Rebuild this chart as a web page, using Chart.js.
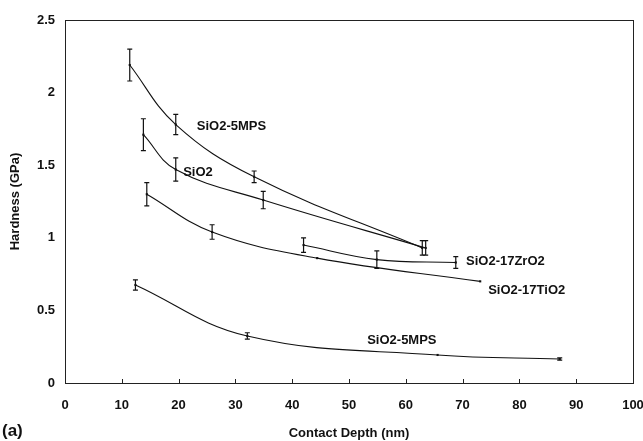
<!DOCTYPE html>
<html>
<head>
<meta charset="utf-8">
<script src="https://cdn.jsdelivr.net/npm/chart.js@4"></script>
<style>
  html, body { margin: 0; padding: 0; background: #fff; }
  #wrap { width: 643px; height: 441px; position: relative; }
</style>
</head>
<body>
<div id="wrap"><canvas id="hardnessChart"></canvas></div>
<script>
// ---- data ----
const xTicks = [0, 10, 20, 30, 40, 50, 60, 70, 80, 90, 100];
const yTicks = [0, 0.5, 1, 1.5, 2, 2.5];

const mps5Depth = [11.4, 19.5, 33.3, 62.9];
const mps5Hard  = [2.19, 1.78, 1.42, 0.93];
const mps5Err   = [0.11, 0.07, 0.04, 0.05];

const sio2Depth = [13.8, 19.5, 34.9, 63.5];
const sio2Hard  = [1.71, 1.47, 1.26, 0.93];
const sio2Err   = [0.11, 0.08, 0.06, 0.05];

const tio2Depth = [14.4, 25.9, 44.4, 73.1];
const tio2Hard  = [1.30, 1.04, 0.86, 0.70];
const tio2Err   = [0.08, 0.05, 0, 0];

const zro2Depth = [42.0, 54.9, 68.8];
const zro2Hard  = [0.95, 0.85, 0.83];
const zro2Err   = [0.05, 0.06, 0.04];

const mpsLowDepth = [12.4, 32.1, 65.6, 87.1];
const mpsLowHard  = [0.675, 0.324, 0.193, 0.165];
const mpsLowErr   = [0.035, 0.022, 0, 0.008];

// curve labels placed in data coordinates
const curveLabels = [
  { text: "SiO2-5MPS",   x: 23.2, y: 1.77 },
  { text: "SiO2",        x: 20.8, y: 1.45 },
  { text: "SiO2-17ZrO2", x: 70.6, y: 0.84 },
  { text: "SiO2-17TiO2", x: 74.5, y: 0.64 },
  { text: "SiO2-5MPS",   x: 53.2, y: 0.29 }
];

const FONT = "'Liberation Sans', Arial, sans-serif";

function toPoints(xs, ys) {
  return xs.map((x, i) => ({ x: x, y: ys[i] }));
}

const seriesList = [
  { label: "SiO2-5MPS",   x: mps5Depth,   y: mps5Hard,   err: mps5Err },
  { label: "SiO2",        x: sio2Depth,   y: sio2Hard,   err: sio2Err },
  { label: "SiO2-17TiO2", x: tio2Depth,   y: tio2Hard,   err: tio2Err },
  { label: "SiO2-17ZrO2", x: zro2Depth,   y: zro2Hard,   err: zro2Err },
  { label: "SiO2-5MPS (low)", x: mpsLowDepth, y: mpsLowHard, err: mpsLowErr }
];

// error bars, frame, inside x ticks and curve labels
const decorPlugin = {
  id: "decor",
  afterDatasetsDraw(chart) {
    const ctx = chart.ctx;
    const xs = chart.scales.x, ys = chart.scales.y;
    const area = chart.chartArea;
    ctx.save();
    ctx.strokeStyle = "#111";
    ctx.lineWidth = 1.2;
    seriesList.forEach(s => {
      s.err.forEach((e, i) => {
        if (!e) return;
        const px = xs.getPixelForValue(s.x[i]);
        const top = ys.getPixelForValue(s.y[i] + e);
        const bot = ys.getPixelForValue(s.y[i] - e);
        ctx.beginPath();
        ctx.moveTo(px, top); ctx.lineTo(px, bot);
        ctx.moveTo(px - 2.5, top); ctx.lineTo(px + 2.5, top);
        ctx.moveTo(px - 2.5, bot); ctx.lineTo(px + 2.5, bot);
        ctx.stroke();
      });
    });
    // plot frame
    ctx.lineWidth = 1;
    ctx.strokeStyle = "#222";
    ctx.strokeRect(area.left + 0.5, area.top + 0.5, area.right - area.left, area.bottom - area.top);
    // inside tick marks on x axis
    ctx.beginPath();
    xTicks.forEach(t => {
      const px = Math.round(xs.getPixelForValue(t)) + 0.5;
      ctx.moveTo(px, area.bottom);
      ctx.lineTo(px, area.bottom - 4);
    });
    ctx.stroke();
    // labels
    ctx.fillStyle = "#111";
    ctx.font = "bold 13px " + FONT;
    ctx.textBaseline = "middle";
    ctx.textAlign = "left";
    curveLabels.forEach(l => {
      ctx.fillText(l.text, xs.getPixelForValue(l.x), ys.getPixelForValue(l.y));
    });
    ctx.font = "bold 17px " + FONT;
    ctx.fillText("(a)", 2, 431);
    ctx.restore();
  }
};

new Chart(document.getElementById("hardnessChart"), {
  type: "scatter",
  data: {
    datasets: seriesList.map(s => ({
      label: s.label,
      data: toPoints(s.x, s.y),
      showLine: true,
      tension: 0.4,
      borderColor: "#111",
      borderWidth: 1.1,
      backgroundColor: "#111",
      pointRadius: 1.5,
      pointStyle: "rect",
      pointBorderWidth: 0
    }))
  },
  options: {
    responsive: true,
    maintainAspectRatio: false,
    animation: false,
    layout: { padding: { top: 20, right: 10, left: 0, bottom: 0 } },
    plugins: {
      legend: { display: false },
      tooltip: { enabled: false }
    },
    scales: {
      x: {
        type: "linear",
        min: 0, max: 100,
        afterBuildTicks: scale => { scale.ticks = xTicks.map(v => ({ value: v })); },
        afterFit: scale => {
          scale.height = 58;
          scale.paddingLeft = 0;
          scale.paddingRight = 0;
        },
        grid: { display: false, drawTicks: false },
        border: { display: true, color: "#222", width: 1 },
        ticks: {
          padding: 15,
          color: "#111",
          font: { family: FONT, size: 13, weight: "bold" }
        },
        title: {
          display: true,
          text: "Contact Depth (nm)",
          color: "#111",
          padding: { top: 8, bottom: 0 },
          font: { family: FONT, size: 13, weight: "bold" }
        }
      },
      y: {
        type: "linear",
        min: 0, max: 2.5,
        afterBuildTicks: scale => { scale.ticks = yTicks.map(v => ({ value: v })); },
        afterFit: scale => {
          scale.width = 65;
          scale.paddingTop = 0;
          scale.paddingBottom = 0;
        },
        grid: { display: false, drawTicks: false },
        border: { display: true, color: "#555", width: 1 },
        ticks: {
          padding: 10,
          color: "#111",
          font: { family: FONT, size: 13, weight: "bold" },
          callback: v => String(v)
        },
        title: {
          display: true,
          text: "Hardness (GPa)",
          color: "#111",
          padding: { top: 8, bottom: 0 },
          font: { family: FONT, size: 13, weight: "bold" }
        }
      }
    }
  },
  plugins: [decorPlugin]
});
</script>
</body>
</html>
